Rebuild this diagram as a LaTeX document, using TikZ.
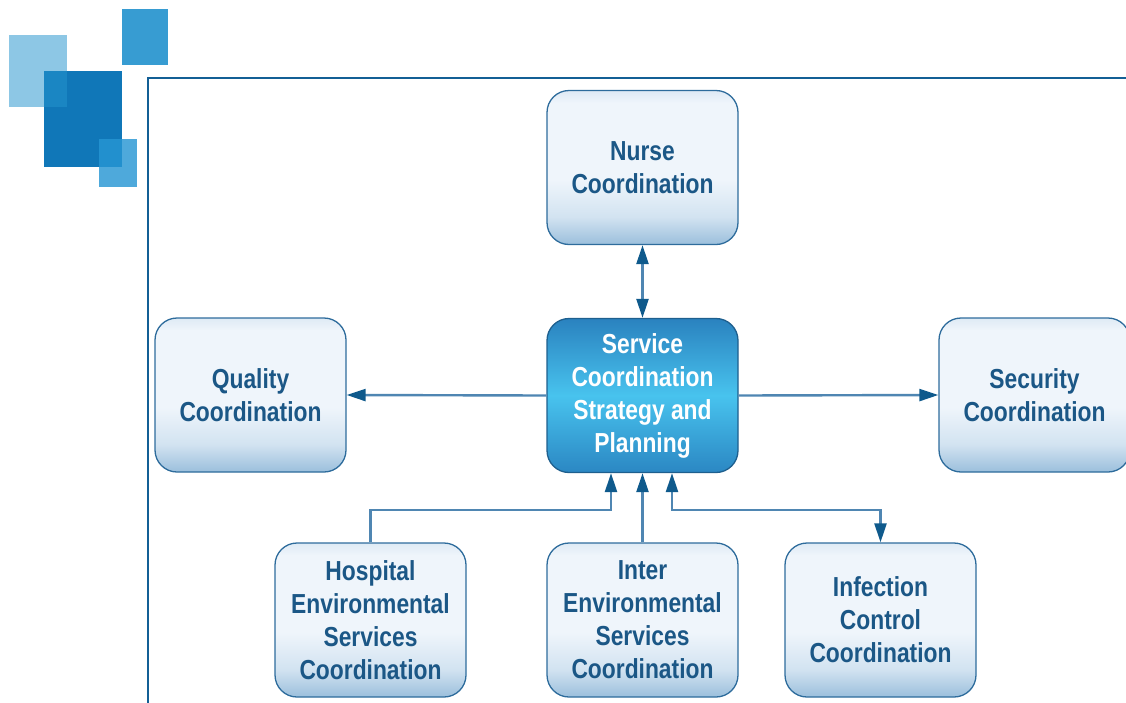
\documentclass[tikz,border=0pt]{standalone}
\usepackage{fontspec}
\setmainfont{Liberation Sans}[FakeStretch=0.83]
\usetikzlibrary{arrows.meta,calc}

% palette
\definecolor{ink}{HTML}{1B5786}
\definecolor{edge}{HTML}{2E6C9C}
\definecolor{coreline}{HTML}{1E5F8E}
\definecolor{wire}{HTML}{4F86B2}
\definecolor{tip}{HTML}{0F5A8C}
\definecolor{framecol}{HTML}{135F95}
\definecolor{boxbot}{HTML}{9BBFDC}
\definecolor{boxlow}{HTML}{D2E3F1}
\definecolor{boxface}{HTML}{EFF5FB}
\definecolor{boxtop}{HTML}{DEEAF5}
\definecolor{coreedge}{HTML}{2B87C3}
\definecolor{coremid}{HTML}{48C3EE}
\definecolor{coretop}{HTML}{2A82BF}
\definecolor{sqlight}{HTML}{2594CE}
\definecolor{sqdark}{HTML}{1077B8}
\definecolor{sqtop}{HTML}{379CD2}
\definecolor{sqsmall}{HTML}{2796D3}

% fills of the boxes
\pgfdeclareverticalshading{softbox}{100bp}{color(0bp)=(boxbot); color(25bp)=(boxbot); color(34bp)=(boxlow); color(46bp)=(boxface); color(71bp)=(boxface); color(75bp)=(boxtop); color(100bp)=(boxtop)}
\pgfdeclareverticalshading{corebox}{100bp}{color(0bp)=(coreedge); color(25bp)=(coreedge); color(50bp)=(coremid); color(75bp)=(coretop); color(100bp)=(coretop)}

\tikzset{
  unit/.style={rounded corners=22pt, minimum width=191pt, minimum height=154pt,
    inner sep=0pt, align=center, text=ink, draw=edge, line width=1.3pt,
    shade, shading=softbox, font=\fontsize{27.5}{33}\selectfont\bfseries},
  core/.style={unit, shading=corebox, draw=coreline, text=white},
  conn/.style={draw=wire, line width=2.4pt},
  head/.tip={Triangle[length=19pt, width=12pt, color=tip, fill=tip]},
  frameline/.style={draw=framecol, line width=2.2pt},
}

\begin{document}
\begin{tikzpicture}[x=1pt, y=-1pt]
\useasboundingbox (0,0) rectangle (1126,702);

% corner emblem
\fill[sqdark] (44,71) rectangle (122,167);
\fill[sqtop] (122,9) rectangle (168,65);
\fill[sqlight, opacity=0.52] (9,35) rectangle (67,107);
\fill[sqsmall, opacity=0.82] (99,139) rectangle (137,187);

% page frame
\draw[frameline] (148,706) -- (148,78) -- (1130,78);

% boxes
\node[unit] (nurse) at (642.5,167.5) {Nurse\\Coordination};
\node[core] (center) at (642.5,395.5) {Service\\Coordination\\Strategy and\\Planning};
\node[unit] (quality) at (250.5,395) {Quality\\Coordination};
\node[unit] (security) at (1034.5,395) {Security\\Coordination};
\node[unit] (hosp) at (370.5,620) {Hospital\\Environmental\\Services\\Coordination};
\node[unit] (inter) at (642.5,620) {Inter\\Environmental\\Services\\Coordination};
\node[unit] (infect) at (880.5,620) {Infection\\Control\\Coordination};

% connectors
\coordinate (hj) at (611,510);
\coordinate (ij) at (672,510);
\draw[conn, head-head] (nurse.south) -- (center.north);
\draw[conn, -head] (center.west) -- (quality.east);
\draw[conn, -head] (center.east) -- (security.west);
\draw[conn, -head] (hosp.north) |- (hj) -- (hj |- center.south);
\draw[conn, -head] (inter.north) -- (center.south);
\draw[conn, head-head] (ij |- center.south) -- (ij) -| (infect.north);
\end{tikzpicture}
\end{document}
